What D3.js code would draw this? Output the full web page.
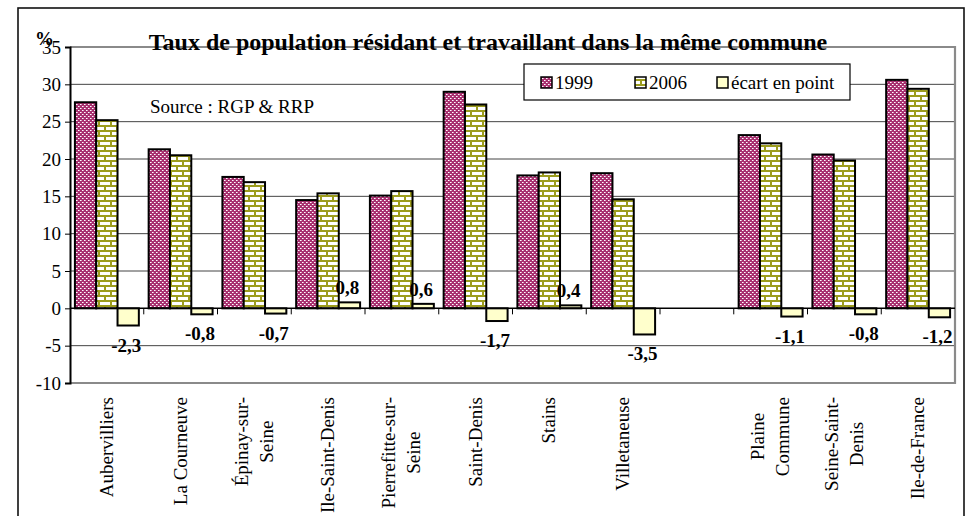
<!DOCTYPE html>
<html lang="fr">
<head>
<meta charset="utf-8">
<script src="https://d3js.org/d3.v7.min.js"></script>
<style>
  body { margin: 0; background: #fff; }
  text { font-family: "Liberation Serif", "Times New Roman", serif; }
</style>
<title>Taux de population</title>
</head>
<body>
<script>
// categories (blank slot between communes and aggregates)
var communes = ["Aubervilliers", "La Courneuve", "Épinay-sur-\nSeine", "Ile-Saint-Denis",
  "Pierrefitte-sur-\nSeine", "Saint-Denis", "Stains", "Villetaneuse", "",
  "Plaine\nCommune", "Seine-Saint-\nDenis", "Ile-de-France"];
var taux1999 = [27.6, 21.3, 17.6, 14.5, 15.1, 29.0, 17.8, 18.1, null, 23.2, 20.6, 30.6];
var taux2006 = [25.2, 20.5, 16.9, 15.4, 15.7, 27.3, 18.2, 14.6, null, 22.1, 19.8, 29.4];
var ecart = [-2.3, -0.8, -0.7, 0.8, 0.6, -1.7, 0.4, -3.5, null, -1.1, -0.8, -1.2];
var yTicks = [-10, -5, 0, 5, 10, 15, 20, 25, 30, 35];
var seriesNames = ["1999", "2006", "écart en point"];

var w = 972, h = 516;
var svg = d3.select("body").append("svg").attr("width", w).attr("height", h);

// patterns
var defs = svg.append("defs");
var p1 = defs.append("pattern").attr("id", "p1999").attr("patternUnits", "userSpaceOnUse")
  .attr("width", 4).attr("height", 4);
p1.append("rect").attr("width", 4).attr("height", 4).attr("fill", "#a8306f");
p1.append("rect").attr("x", 0).attr("y", 0).attr("width", 1).attr("height", 1).attr("fill", "#ffffff");
p1.append("rect").attr("x", 2).attr("y", 2).attr("width", 1).attr("height", 1).attr("fill", "#ffffff");
p1.append("rect").attr("x", 1).attr("y", 0).attr("width", 1).attr("height", 1).attr("fill", "#dca5c4");
p1.append("rect").attr("x", 3).attr("y", 2).attr("width", 1).attr("height", 1).attr("fill", "#dca5c4");

var p2 = defs.append("pattern").attr("id", "p2006").attr("patternUnits", "userSpaceOnUse")
  .attr("width", 12).attr("height", 10);
p2.append("rect").attr("width", 12).attr("height", 10).attr("fill", "#ffffff");
p2.append("rect").attr("x", 0).attr("y", 0).attr("width", 12).attr("height", 2).attr("fill", "#9c9c1e");
p2.append("rect").attr("x", 0).attr("y", 5).attr("width", 12).attr("height", 2).attr("fill", "#9c9c1e");
p2.append("rect").attr("x", 2).attr("y", 0).attr("width", 2).attr("height", 5).attr("fill", "#9c9c1e");
p2.append("rect").attr("x", 8).attr("y", 5).attr("width", 2).attr("height", 5).attr("fill", "#9c9c1e");

var fills = ["url(#p1999)", "url(#p2006)", "#ffffcc"];

// outer frame
svg.append("rect").attr("x", 18).attr("y", 8).attr("width", 946).attr("height", 520)
  .attr("fill", "none").attr("stroke", "#111").attr("stroke-width", 1.6);

var pl = 70, pr = 955, pt = 47, pb = 383;

var x = d3.scaleBand().domain(d3.range(communes.length)).range([pl, pr]).padding(0);
var xs = d3.scaleBand().domain([0, 1, 2]).range([0, x.bandwidth()]).paddingInner(0).paddingOuter(0.23);
var y = d3.scaleLinear().domain([-10, 35]).range([pb, pt]);

// gridlines
svg.append("g").selectAll("line").data(yTicks.filter(function(d) { return d !== 0 && d !== -10 && d !== 35; }))
  .enter().append("line")
  .attr("x1", pl).attr("x2", pr)
  .attr("y1", function(d) { return y(d); }).attr("y2", function(d) { return y(d); })
  .attr("stroke", "#444").attr("stroke-width", 1);

// plot frame (grey top/right/bottom)
svg.append("path")
  .attr("d", "M" + pl + "," + y(35) + "H" + pr + "V" + y(-10) + "H" + pl)
  .attr("fill", "none").attr("stroke", "#8a8a8a").attr("stroke-width", 2.2);

// bars
var series = [taux1999, taux2006, ecart];
series.forEach(function(vals, s) {
  var pts = vals.map(function(v, i) { return { i: i, v: v }; })
    .filter(function(d) { return d.v !== null; });
  svg.append("g").selectAll("rect").data(pts).enter()
    .append("rect")
    .attr("x", function(d) { return x(d.i) + xs(s); })
    .attr("y", function(d) { return y(Math.max(0, d.v)); })
    .attr("width", xs.bandwidth())
    .attr("height", function(d) { return Math.abs(y(d.v) - y(0)); })
    .attr("fill", fills[s]).attr("stroke", "#000").attr("stroke-width", 2);
});

// y axis
var yAxis = d3.axisLeft(y).tickValues(yTicks).tickSize(5).tickPadding(4)
  .tickFormat(function(d) { return d; });
var ga = svg.append("g").attr("transform", "translate(" + pl + ",0)").call(yAxis);
ga.select(".domain").attr("stroke", "#000").attr("stroke-width", 2);
ga.selectAll(".tick line").attr("stroke", "#000");
ga.selectAll(".tick text").attr("font-size", 19).attr("fill", "#000")
  .style("font-family", "Liberation Serif");

// zero line with ticks
var z = y(0);
svg.append("line").attr("x1", pl).attr("x2", pr).attr("y1", z).attr("y2", z)
  .attr("stroke", "#000").attr("stroke-width", 1.5);
svg.append("g").selectAll("line").data(d3.range(1, communes.length)).enter().append("line")
  .attr("x1", function(d) { return x(d); }).attr("x2", function(d) { return x(d); })
  .attr("y1", z).attr("y2", z + 6).attr("stroke", "#000").attr("stroke-width", 1);

// ecart labels
var ecartPts = ecart.map(function(v, i) { return { i: i, v: v }; })
  .filter(function(d) { return d.v !== null; });
svg.append("g").selectAll("text").data(ecartPts).enter()
  .append("text")
  .attr("x", function(d) { return x(d.i) + xs(2) + xs.bandwidth() / 2 - 2; })
  .attr("y", function(d) { return d.v < 0 ? y(d.v) + 26 : y(d.v) - 8; })
  .attr("text-anchor", "middle").attr("font-size", 19).attr("font-weight", "bold")
  .text(function(d) { return String(d.v).replace(".", ","); });

// category labels (rotated)
var labelTop = 397;
communes.forEach(function(c, i) {
  if (!c) return;
  var lines = c.split("\n");
  var g = svg.append("g");
  var cx = x(i) + x.bandwidth() / 2;
  var lh = 25;
  var ts = lines.map(function(l) {
    return g.append("text").attr("font-size", 19).attr("text-anchor", "middle").text(l);
  });
  var maxLen = d3.max(ts, function(t) { return t.node().getComputedTextLength(); });
  var cy = labelTop + maxLen / 2;
  ts.forEach(function(t, k) {
    var bx = cx + (k - (lines.length - 1) / 2) * lh + 6;
    t.attr("transform", "translate(" + bx + "," + cy + ") rotate(-90)");
  });
});

// title
svg.append("text").attr("x", 488).attr("y", 50).attr("text-anchor", "middle")
  .attr("font-size", 24).attr("font-weight", "bold").text("Taux de population résidant et travaillant dans la même commune");
svg.append("text").attr("x", 35).attr("y", 45).attr("font-size", 19).attr("font-weight", "bold").text("%");

// source
svg.append("text").attr("x", 150).attr("y", 113).attr("font-size", 19).text("Source : RGP & RRP");

// legend
var lg = svg.append("g").attr("transform", "translate(524,64)");
lg.append("rect").attr("width", 326).attr("height", 36).attr("fill", "#fff")
  .attr("stroke", "#000").attr("stroke-width", 1.2);
var lx = [17, 111, 193];
seriesNames.forEach(function(n, i) {
  lg.append("rect").attr("x", lx[i]).attr("y", 13).attr("width", 11).attr("height", 11)
    .attr("fill", fills[i]).attr("stroke", "#000").attr("stroke-width", 1.5);
  lg.append("text").attr("x", lx[i] + 14).attr("y", 25).attr("font-size", 19).text(n);
});
</script>
</body>
</html>
